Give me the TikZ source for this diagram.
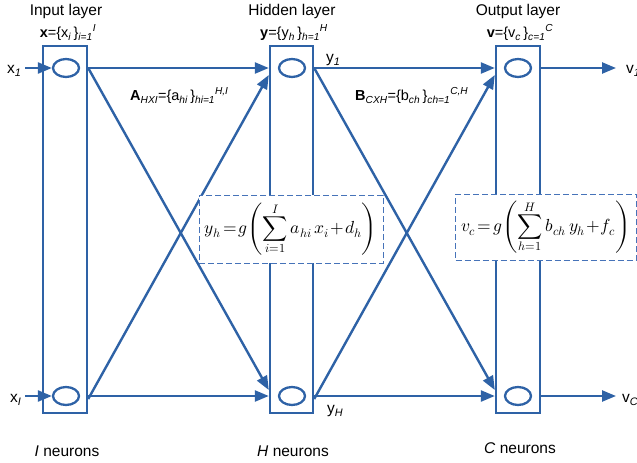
\documentclass[tikz,border=0pt]{standalone}
\usepackage{unicode-math}
\setmainfont{Liberation Sans}
\setmathfont{Latin Modern Math}
\usetikzlibrary{arrows.meta,shapes.geometric}
\definecolor{nnblue}{RGB}{46,98,166}
\definecolor{boxblue}{RGB}{70,115,185}
\newcommand{\lsb}[1]{\textsubscript{\itshape #1}}
\newcommand{\lsp}[1]{\textsuperscript{\itshape #1}}
\begin{document}
\begin{tikzpicture}[x=1pt,y=-1pt,
  layerbox/.style={draw=nnblue,line width=2.4pt,fill=none},
  neuron/.style={draw=nnblue,line width=2.3pt,ellipse,minimum width=26pt,minimum height=18pt,inner sep=0pt},
  conn/.style={draw=nnblue,line width=2.4pt,-{Triangle[length=14pt,width=11pt]}},
  lbl/.style={font=\fontsize{15.5}{18}\selectfont,inner sep=0pt,text=black},
  small/.style={font=\fontsize{14.5}{17}\selectfont,inner sep=0pt,text=black},
  fbox/.style={draw=boxblue,dash pattern=on 6pt off 3pt,line width=1pt,fill=white,inner sep=0pt},
]
\useasboundingbox (0,0) rectangle (637,463);
% layer rectangles
\node[layerbox,minimum width=44pt,minimum height=367pt,inner sep=0pt] (L1) at (65,229.5) {};
\node[layerbox,minimum width=43pt,minimum height=367pt,inner sep=0pt] (L2) at (291.5,229.5) {};
\node[layerbox,minimum width=44pt,minimum height=367pt,inner sep=0pt] (L3) at (518,229.5) {};
% neurons
\node[neuron] (i1) at (66,68) {};
\node[neuron] (iI) at (66,396) {};
\node[neuron] (h1) at (292,68) {};
\node[neuron] (hH) at (292,396) {};
\node[neuron] (c1) at (518,68) {};
\node[neuron] (cC) at (518,396) {};
% connection anchor coordinates
\coordinate (i1o) at (L1.east |- i1);
\coordinate (iIo) at (L1.east |- iI);
\coordinate (h1i) at (L2.west |- h1);
\coordinate (hHi) at (L2.west |- hH);
\coordinate (h1o) at (L2.east |- h1);
\coordinate (hHo) at (L2.east |- hH);
\coordinate (c1i) at (L3.west |- c1);
\coordinate (cCi) at (L3.west |- cC);
\coordinate (c1o) at (L3.east |- c1);
\coordinate (cCo) at (L3.east |- cC);
\coordinate (h1d) at ([yshift=-7pt]h1i);
\coordinate (hHd) at ([yshift=6pt]hHi);
\coordinate (c1d) at ([yshift=-7pt]c1i);
\coordinate (cCd) at ([yshift=6pt]cCi);
\coordinate (iIs) at ([yshift=-3pt]iIo);
\coordinate (hHs) at ([yshift=-3pt]hHo);
% input arrows
\node[lbl,anchor=base west] (x1) at (7,73) {x\lsb{1}};
\node[lbl,anchor=base west] (xI) at (10,402) {x\lsb{I}};
\coordinate (x1s) at (25,68);
\coordinate (xIs) at (25,396);
\draw[conn] (x1s) -- (i1.west);
\draw[conn] (xIs) -- (iI.west);
% input -> hidden
\draw[conn] (i1o) -- (h1i);
\draw[conn] (iIo) -- (hHi);
\draw[conn] (i1o) -- (hHd);
\draw[conn] (iIs) -- (h1d);
% hidden -> output
\draw[conn] (h1o) -- (c1i);
\draw[conn] (hHo) -- (cCi);
\draw[conn] (h1o) -- (cCd);
\draw[conn] (hHs) -- (c1d);
% output arrows
\coordinate (v1e) at (616,68);
\coordinate (vCe) at (616,396);
\draw[conn] (c1o) -- (v1e);
\draw[conn] (cCo) -- (vCe);
\node[lbl,anchor=base west] (v1) at (626,73) {v\lsb{1}};
\node[lbl,anchor=base west] (vC) at (622,402) {v\lsb{C}};
% headings
\node[lbl] (t1) at (66,11) {Input layer};
\node[lbl] (t2) at (292,11) {Hidden layer};
\node[lbl] (t3) at (518,11) {Output layer};
\node[small,anchor=base] (s1) at (68,37) {\textbf{x}=\{x\lsb{i}\,\}\lsb{i=1}\lsp{I}};
\node[small,anchor=base] (s2) at (294,37) {\textbf{y}=\{y\lsb{h}\,\}\lsb{h=1}\lsp{H}};
\node[small,anchor=base] (s3) at (520,37) {\textbf{v}=\{v\lsb{c}\,\}\lsb{c=1}\lsp{C}};
% matrices
\node[small,anchor=base west] (A) at (130,100) {\textbf{A}\lsb{HXI}=\{a\lsb{hi}\,\}\lsb{hi=1}\lsp{H,I}};
\node[small,anchor=base west] (B) at (355,100) {\textbf{B}\lsb{CXH}=\{b\lsb{ch}\,\}\lsb{ch=1}\lsp{C,H}};
% y labels
\node[lbl,anchor=base west] (y1) at (326,62) {y\lsb{1}};
\node[lbl,anchor=base west] (yH) at (327,413) {y\lsb{H}};
% formula boxes
\node[fbox,minimum width=184pt,minimum height=68pt,font=\fontsize{17.5}{21}\selectfont] (f1) at (291,229)
  {$\displaystyle y_h\!=\!g\!\left(\sum_{i=1}^{I} a_{hi}\,x_i\!+\!d_h\right)$};
\node[fbox,minimum width=181pt,minimum height=66pt,anchor=west,font=\fontsize{17.5}{21}\selectfont] (f2) at (455,227)
  {$\displaystyle v_c\!=\!g\!\left(\sum_{h=1}^{H} b_{ch}\,y_h\!+\!f_c\right)$};
% bottom labels
\node[lbl] (n1) at (67,451) {\textit{I} neurons};
\node[lbl] (n2) at (293,451) {\textit{H} neurons};
\node[lbl] (n3) at (520,448) {\textit{C} neurons};
\end{tikzpicture}
\end{document}
